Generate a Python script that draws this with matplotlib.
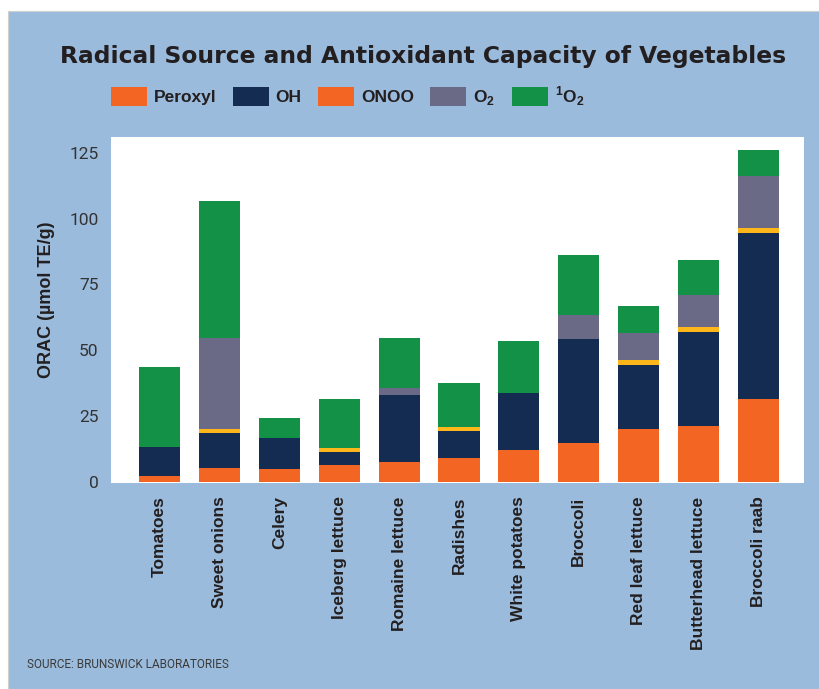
"""
Stacked bar chart: radical source and antioxidant capacity of vegetables
"""
import matplotlib.pyplot as plt
import numpy as np
from matplotlib.patches import Rectangle, Patch

vegetables = ['Tomatoes', 'Sweet onions', 'Celery', 'Iceberg lettuce',
              'Romaine lettuce', 'Radishes', 'White potatoes', 'Broccoli',
              'Red leaf lettuce', 'Butterhead lettuce', 'Broccoli raab']

peroxyl = [2.3, 5.3, 4.9, 6.4, 7.6, 9.1, 12.1, 14.8, 20.1, 21.2, 31.5]
oh = [11.0, 13.3, 11.8, 5.0, 25.4, 10.2, 21.7, 39.5, 24.3, 35.7, 63.0]
onoo = [0.0, 1.5, 0.0, 1.5, 0.0, 1.5, 0.0, 0.0, 1.9, 1.9, 1.9]
o2 = [0.0, 34.5, 0.0, 0.0, 2.7, 0.0, 0.0, 9.2, 10.2, 12.2, 19.7]
singlet_o2 = [30.4, 52.0, 7.6, 18.6, 18.9, 16.7, 19.7, 22.6, 10.3, 13.2, 9.9]

series = [peroxyl, oh, onoo, o2, singlet_o2]
series_names = ['Peroxyl', 'OH', 'ONOO', r'O$_\mathregular{2}$',
                r'$^\mathregular{1}$O$_\mathregular{2}$']
bar_colors = ['#f26522', '#142b52', '#fdb71a', '#6a6a86', '#139247']
# the printed legend shows ONOO in the peroxyl orange
legend_colors = ['#f26522', '#142b52', '#f26522', '#6a6a86', '#139247']

yticks = [0, 25, 50, 75, 100, 125]

bg = '#9bbbdc'
text_dark = '#231f20'

plt.rcParams['font.family'] = ['Liberation Sans', 'DejaVu Sans']
plt.rcParams['mathtext.fontset'] = 'custom'
plt.rcParams['mathtext.rm'] = 'Liberation Sans:bold'

fig = plt.figure(figsize=(8.2, 6.89), dpi=100)
fig.patch.set_facecolor('white')
fig.patches.append(Rectangle((8 / 820, 0), 1, 1 - 11 / 689,
                             transform=fig.transFigure, facecolor=bg,
                             edgecolor='#d0d0d0', linewidth=0.8, zorder=-5))

ax = fig.add_axes([111 / 820, 1 - 482.5 / 689, (804 - 111) / 820,
                   (482.5 - 137) / 689])
ax.set_zorder(2)
ax.set_facecolor('white')

x = np.arange(len(vegetables))
bottom = np.zeros(len(vegetables))
for vals, col in zip(series, bar_colors):
    vals = np.array(vals)
    ax.bar(x, vals, width=0.685, bottom=bottom, color=col, linewidth=0)
    bottom += vals

ax.set_xlim(-0.81, 10.76)
ax.set_ylim(-0.3, 131)
ax.set_yticks(yticks)
ax.set_yticklabels([str(t) for t in yticks], fontsize=12.5, color='#333333',
                   family=['Roboto', 'DejaVu Sans'])
ax.set_xticks(x)
ax.set_xticklabels(vegetables, rotation=90, fontsize=12.5, fontweight='bold',
                   color=text_dark, va='top')
ax.tick_params(axis='both', length=0)
ax.tick_params(axis='y', pad=9)
ax.tick_params(axis='x', pad=10)
for s in ax.spines.values():
    s.set_visible(False)

ax.set_ylabel('ORAC (µmol TE/g)', fontsize=13, fontweight='bold',
              color=text_dark)
ax.yaxis.set_label_coords(-0.081, 0.528)

fig.text(423 / 820, 1 - 57 / 689,
         'Radical Source and Antioxidant Capacity of Vegetables',
         ha='center', va='center', fontsize=16.8, fontweight='bold',
         color=text_dark, family=['DejaVu Sans'])

handles = [Patch(facecolor=c, edgecolor='none') for c in legend_colors]
fig.legend(handles, series_names, loc='center left',
           bbox_to_anchor=(95 / 820, 1 - 96 / 689), ncol=5, frameon=False,
           handlelength=2.07, handleheight=1.3, handletextpad=0.4,
           columnspacing=0.95,
           prop={'weight': 'bold', 'size': 12.5}, labelcolor=text_dark)

fig.text(27 / 820, 1 - 665 / 689, 'SOURCE: BRUNSWICK LABORATORIES',
         ha='left', va='center', fontsize=8.5, color='#3a3a3a',
         family=['Roboto', 'DejaVu Sans'])

plt.savefig('out.png', dpi=100, facecolor=fig.get_facecolor())
